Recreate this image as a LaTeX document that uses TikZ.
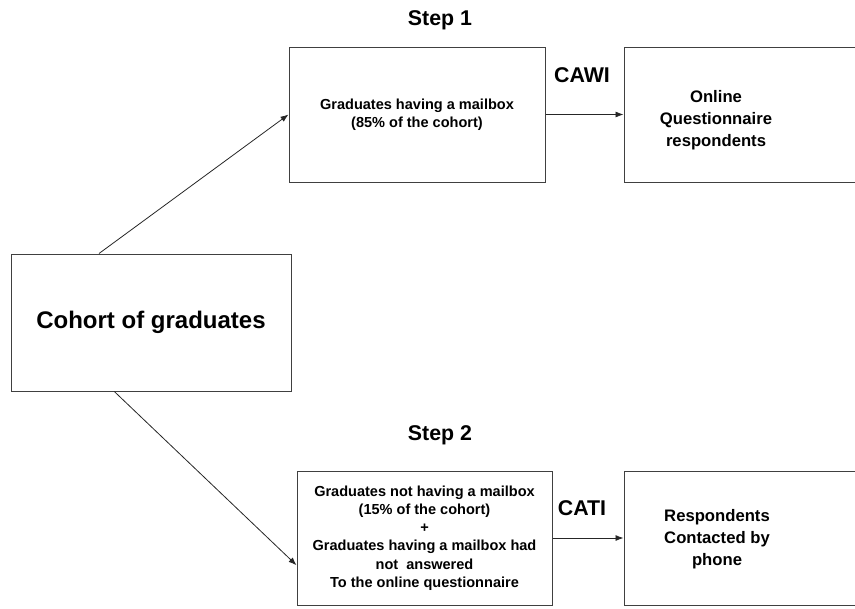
\documentclass[tikz,border=0pt]{standalone}
\usepackage{fontspec}
\setmainfont{Liberation Sans}
\usetikzlibrary{arrows.meta}
\tikzset{
  bx/.style={draw=black!75,line width=0.75pt,inner sep=0pt},
  ln/.style={black!85,line width=0.6pt},
  ar/.style={ln,-{Latex[length=6pt,width=4.5pt]}},
  ttl/.style={font=\fontsize{16}{19}\selectfont\bfseries},
  sm/.style={font=\fontsize{10.9}{13.7}\selectfont\bfseries,align=center},
  md/.style={font=\fontsize{12.5}{16.5}\selectfont\bfseries,align=center}
}

\begin{document}
\begin{tikzpicture}[x=0.75pt,y=-0.75pt]
\useasboundingbox (0,0) rectangle (855,608);
\node[bx,minimum width=210pt,minimum height=102.75pt,font=\fontsize{18}{21}\selectfont\bfseries] (cohort) at (151,322.5) {Cohort of graduates};
\node[bx,sm,minimum width=192pt,minimum height=101.25pt] (step1) at (417,114.5) {Graduates having a mailbox\\(85\% of the cohort)};
\node[bx,minimum width=207pt,minimum height=101.25pt] (online) at (762,114.5) {};
\node[md] (onlinetxt) at (716,120) {Online\\Questionnaire\\respondents};
\node[bx,sm,minimum width=191.25pt,minimum height=100.5pt] (step2) at (424.5,538) {Graduates not having a mailbox\\(15\% of the cohort)\\+\\Graduates having a mailbox had\\not~ answered\\To the online questionnaire};
\node[bx,minimum width=207pt,minimum height=100.5pt] (resp) at (762,538) {};
\node[md] (resptxt) at (717,539) {Respondents\\Contacted by\\phone};
\node[ttl] (stepone) at (440,20) {Step 1};
\node[ttl] (steptwo) at (440,435) {Step 2};
\node[ttl] (cawi) at (582,75) {CAWI};
\node[ttl] (cati) at (582,508) {CATI};
\draw[ar] (cohort.127) -- (step1.west);
\draw[ar] (cohort.242) -- (step2.192);
\draw[ar] (step1) -- (online);
\draw[ar] (step2) -- (resp);
\end{tikzpicture}
\end{document}
